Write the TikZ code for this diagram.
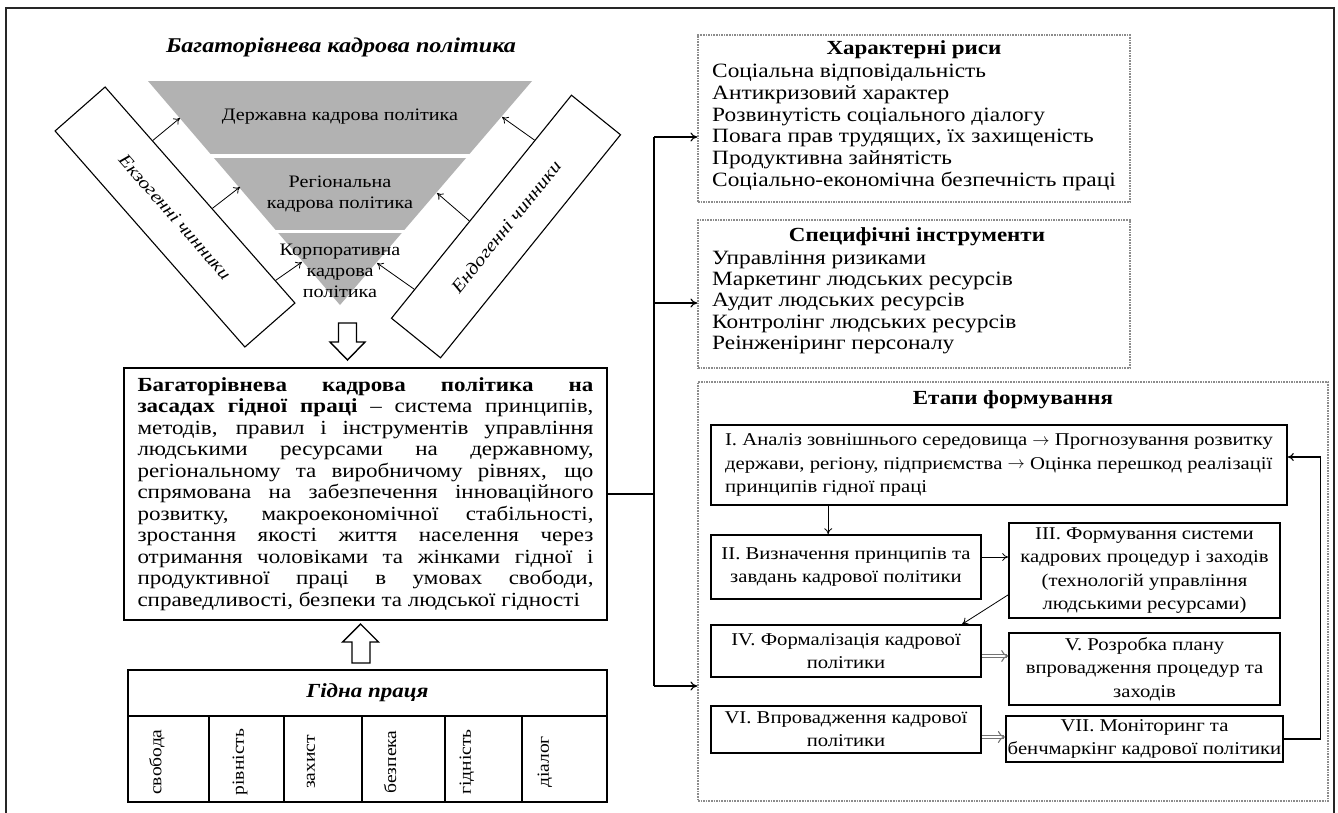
\documentclass[tikz,border=0pt]{standalone}
\usepackage{fontspec}
\setmainfont{Liberation Serif}[FakeStretch=1.15]
\usetikzlibrary{arrows.meta,calc}
\newcommand\fsz[2]{\fontsize{#1pt}{#2pt}\selectfont}
\newcommand\jline[1]{\makebox[\linewidth][s]{#1}\par}
\newcommand\rarr{\raisebox{0.5pt}{$\rightarrow$}}
\begin{document}
\begin{tikzpicture}[x=1pt,y=-1pt,
  thinarr/.style={-{To[length=6pt,width=8pt]}, line width=0.8pt},
  arr/.style={-{To[length=7pt,width=9pt]}, line width=1.1pt},
  dblarr/.style={draw=black!55, double=white, double distance=2pt, line width=1.1pt, -{To[length=7pt,width=12pt]}},
  dotbox/.style={draw=black!45, line width=1.3pt, dash pattern=on 1.6pt off 1pt, inner sep=0pt},
  stagebox/.style={draw, line width=1.7pt, inner sep=2pt, align=center, font=\fsz{18}{23.3}},
  factor/.style={draw, line width=1.1pt, inner sep=0pt, font=\fsz{18}{20}\itshape},
  cell/.style={draw, line width=1.5pt, inner sep=0pt},
  item/.style={anchor=base west, inner sep=0pt, font=\fsz{20.3}{21.7}},
  head/.style={font=\fsz{20}{22}\bfseries, inner sep=0pt},
  lvl/.style={align=center, font=\fsz{17.5}{21}, inner sep=0pt},
  vlab/.style={rotate=90, inner sep=0pt, font=\fsz{17}{20}},
  hollow/.style={draw, line width=1.4pt, fill=white, line join=miter}
]
\useasboundingbox (0,0) rectangle (1338,812);
\fill[white] (0,0) rectangle (1338,812);
\draw[line width=2.6pt, black!85] (6,830) -- (6,8) -- (1334,8) -- (1334,830);

% title
\node[font=\fsz{21}{24}\bfseries\itshape] (title) at (341,47) {Багаторівнева кадрова політика};

% pyramid
\fill[black!30] (148,81) -- (532,81) -- (340,305) -- cycle;
\draw[white, line width=4pt] (208,156) -- (472,156);
\draw[white, line width=3pt] (274,231.5) -- (406,231.5);
\node[lvl] (lev1) at (340,117) {Державна кадрова політика};
\node[lvl] (lev2) at (340,194) {Регіональна\\кадрова політика};
\node[lvl] (lev3) at (340,271) {Корпоративна\\кадрова\\політика};

% factor bands
\node[factor, rotate=-48.7, minimum width=287.6pt, minimum height=66.6pt] (exo) at (175,217) {Екзогенні чинники};
\node[factor, rotate=51.1, minimum width=286.6pt, minimum height=63pt] (endo) at (506,226.5) {Ендогенні чинники};

\coordinate (pL1) at (180,118); \coordinate (pL2) at (240,187); \coordinate (pL3) at (302,262);
\coordinate (pR1) at (502,117); \coordinate (pR2) at (437,193); \coordinate (pR3) at (377,263);
\draw[thinarr] ($(exo.north west)!0.25!(exo.north east)$) -- (pL1);
\draw[thinarr] ($(exo.north west)!0.563!(exo.north east)$) -- (pL2);
\draw[thinarr] ($(exo.north west)!0.895!(exo.north east)$) -- (pL3);
\draw[thinarr] ($(endo.north west)!0.796!(endo.north east)$) -- (pR1);
\draw[thinarr] ($(endo.north west)!0.435!(endo.north east)$) -- (pR2);
\draw[thinarr] ($(endo.north west)!0.13!(endo.north east)$) -- (pR3);

% hollow arrows
\draw[hollow] (338.5,323) -- (356.5,323) -- (356.5,342) -- (365,342) -- (347.5,360) -- (330,342) -- (338.5,342) -- cycle;
\draw[hollow] (352,663) -- (370,663) -- (370,642) -- (378.5,642) -- (360.5,624) -- (342.5,642) -- (352,642) -- cycle;

% definition box
\node[draw, line width=1.5pt, minimum width=483pt, minimum height=252pt, inner sep=0pt] (def) at (365.5,494) {%
\begin{minipage}{456pt}\fsz{20}{21.5}\setlength\parindent{0pt}%
\jline{\textbf{Багаторівнева кадрова політика на}}
\jline{\textbf{засадах гідної праці} – система принципів,}
\jline{методів, правил і інструментів управління}
\jline{людськими ресурсами на державному,}
\jline{регіональному та виробничому рівнях, що}
\jline{спрямована на забезпечення інноваційного}
\jline{розвитку, макроекономічної стабільності,}
\jline{зростання якості життя населення через}
\jline{отримання чоловіками та жінками гідної і}
\jline{продуктивної праці в умовах свободи,}
\makebox[\linewidth][l]{справедливості, безпеки та людської гідності}\par
\end{minipage}};

% decent work table
\node[cell, minimum width=479pt, minimum height=46pt, font=\fsz{20}{22}\bfseries\itshape] (gp) at (367.5,693) {Гідна праця};
\node[cell, minimum width=81pt, minimum height=86pt] (c1) at (168.5,759) {};
\node[cell, minimum width=75pt, minimum height=86pt] (c2) at (246.5,759) {};
\node[cell, minimum width=78pt, minimum height=86pt] (c3) at (323,759) {};
\node[cell, minimum width=83pt, minimum height=86pt] (c4) at (403.5,759) {};
\node[cell, minimum width=77pt, minimum height=86pt] (c5) at (483.5,759) {};
\node[cell, minimum width=85pt, minimum height=86pt] (c6) at (564.5,759) {};
\node[vlab] (t1) at (157,762) {свобода};
\node[vlab] (t2) at (240,762) {рівність};
\node[vlab] (t3) at (311,762) {захист};
\node[vlab] (t4) at (390,762) {безпека};
\node[vlab] (t5) at (467,762) {гідність};
\node[vlab] (t6) at (545,762) {діалог};

% right boxes
\node[dotbox, minimum width=432pt, minimum height=167pt] (box1) at (914,118.5) {};
\node[head] (h1) at (914,50) {Характерні риси};
\foreach \t [count=\i] in {Соціальна відповідальність, Антикризовий характер, Розвинутість соціального діалогу, {Повага прав трудящих, їх захищеність}, Продуктивна зайнятість, Соціально-економічна безпечність праці}
  \node[item] (ra\i) at (712,{56+21.7*\i}) {\t};

\node[dotbox, minimum width=432pt, minimum height=148pt] (box2) at (914,294) {};
\node[head] (h2) at (917,237) {Специфічні інструменти};
\foreach \t [count=\i] in {Управління ризиками, Маркетинг людських ресурсів, Аудит людських ресурсів, Контролінг людських ресурсів, Реінженіринг персоналу}
  \node[item] (rb\i) at (712,{243+21.3*\i}) {\t};

\node[dotbox, minimum width=630pt, minimum height=419pt] (box3) at (1013,591.5) {};
\node[head] (h3) at (1013,400) {Етапи формування};

% spine
\coordinate (sp1) at (654,137);
\coordinate (sp2) at (654,494);
\coordinate (sp3) at (654,686);
\coordinate (sp4) at (654,303);
\draw[line width=1.1pt] (def.east) -- (sp2);
\draw[line width=1.1pt] (sp1) -- (sp3);
\draw[arr] (sp1) -- (sp1 -| box1.west);
\draw[arr] (sp4) -- (sp4 -| box2.west);
\draw[arr] (sp3) -- (sp3 -| box3.west);

% stages
\node[stagebox, align=left, minimum width=576pt, minimum height=80pt] (s1) at (999,465) {I. Аналіз зовнішнього середовища \rarr{} Прогнозування розвитку\\держави, регіону, підприємства \rarr{} Оцінка перешкод реалізації\\принципів гідної праці};
\node[stagebox, minimum width=270pt, minimum height=64pt] (s2) at (846,567) {II. Визначення принципів та\\завдань кадрової політики};
\node[stagebox, minimum width=271pt, minimum height=95pt] (s3) at (1144.5,570.5) {III. Формування системи\\кадрових процедур і заходів\\(технологій управління\\людськими ресурсами)};
\node[stagebox, minimum width=270pt, minimum height=52pt] (s4) at (846,651) {IV. Формалізація кадрової\\політики};
\node[stagebox, minimum width=271pt, minimum height=72pt] (s5) at (1144.5,669) {V. Розробка плану\\впровадження процедур та\\заходів};
\node[stagebox, minimum width=270pt, minimum height=47pt] (s6) at (846,729.5) {VI. Впровадження кадрової\\політики};
\node[stagebox, minimum width=271pt, minimum height=46pt] (s7) at (1144.5,739) {VII. Моніторинг та\\бенчмаркінг кадрової політики};

\coordinate (y23) at (0,557);
\draw[thinarr] ($(s1.south west)+(118,0)$) -- ($(s2.north west)+(118,0)$);
\draw[thinarr] (s2.east |- y23) -- (s3.west |- y23);
\draw[thinarr] ($(s3.south west)+(0,-24)$) -- ($(s4.north west)+(252,0)$);
\draw[dblarr] ($(s4.east)+(0,5)$) -- ($(s5.west)+(0,-13)$);
\draw[dblarr] ($(s6.east)+(0,7.5)$) -- ($(s7.west)+(0,-2)$);
\draw[thinarr, line width=1.1pt] (s7.east) -| ($(s1.east)+(33,-8)$) -- ($(s1.east)+(0,-8)$);
\end{tikzpicture}
\end{document}
